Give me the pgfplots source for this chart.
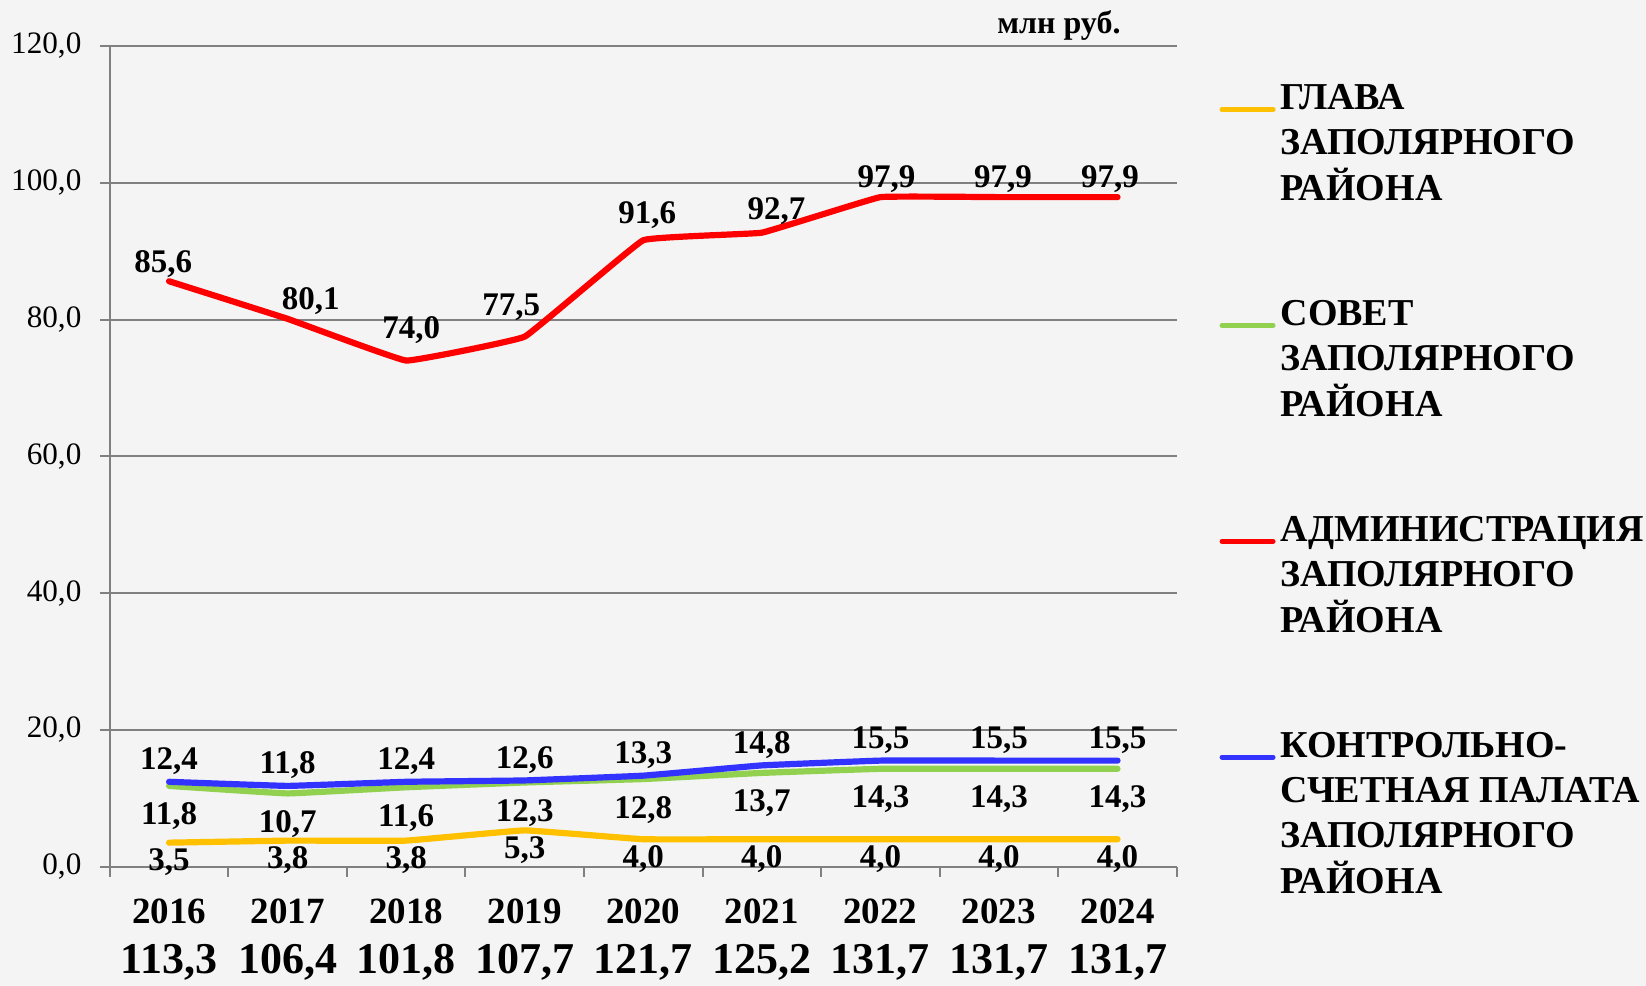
\documentclass[border=0pt]{standalone}
\usepackage{fontspec}
\setmainfont{Liberation Serif}
\usepackage{pgfplots}
\pgfplotsset{compat=1.18}

\definecolor{bgc}{RGB}{244,244,244}
\definecolor{glava}{RGB}{255,192,0}
\definecolor{sovet}{RGB}{146,208,80}
\definecolor{admin}{RGB}{255,0,0}
\definecolor{ksp}{RGB}{51,51,255}
\definecolor{gridc}{RGB}{128,128,128}

% year on top, total below
\newcommand{\yl}[2]{#1\\{\fontsize{22}{25.1}\selectfont #2}}
% legend text, baseline on its first line
\newcommand{\legtxt}[1]{\begin{tabular}[t]{@{}l@{}}#1\end{tabular}}

\begin{document}
\begin{tikzpicture}
\path[use as bounding box, fill=bgc] (0,0) rectangle (823pt,493pt);
\begin{axis}[
    at={(54.9pt,59.7pt)}, anchor=south west,
    scale only axis, width=533.5pt, height=410.3pt,
    xmin=-0.5, xmax=8.5, ymin=0, ymax=120,
    axis x line*=bottom, axis y line*=left,
    axis line style={gridc, line width=1pt, -},
    tick align=outside,
    major tick length=5pt, minor tick length=5pt,
    tick style={gridc, line width=1pt},
    major x tick style={draw=none},
    xtick={0,...,8},
    minor xtick={-0.5,0.5,...,8.5},
    xticklabels={{\yl{2016}{113,3}},{\yl{2017}{106,4}},{\yl{2018}{101,8}},
        {\yl{2019}{107,7}},{\yl{2020}{121,7}},{\yl{2021}{125,2}},
        {\yl{2022}{131,7}},{\yl{2023}{131,7}},{\yl{2024}{131,7}}},
    xticklabel style={font=\fontsize{18.5}{25.1}\selectfont\bfseries,
        align=center, anchor=north, inner sep=0pt, yshift=-10.8pt},
    ytick={0,20,...,120},
    yticklabel style={font=\fontsize{15.6}{18}\selectfont, inner sep=0pt, xshift=-9pt},
    ymajorgrids,
    grid style={gridc, line width=1pt},
    /pgf/number format/.cd, fixed, fixed zerofill, precision=1, use comma,
        1000 sep={}, assume math mode=true,
    /pgfplots/.cd,
    every axis plot/.append style={line width=3.1pt, line cap=round, line join=round,
        smooth, tension=0.12},
    nodes near coords style={font=\fontsize{16.5}{18}\selectfont\bfseries,
        text=black, inner sep=0pt},
    legend style={at={(1.0368,0.9615)}, anchor=north west, draw=none, fill=none,
        font=\fontsize{19}{22.5}\selectfont\bfseries,
        nodes={inner sep=0pt},
        cells={anchor=base west}, row sep=84.4pt, column sep=2.5pt, inner sep=0pt},
    legend image code/.code={
        \path (0pt,-6.25pt);
        \draw[#1, line width=2.5pt, line cap=round] (1.25pt,0pt) -- (26.75pt,0pt);
    },
]
\addplot[glava, nodes near coords,
    every node near coord/.append style={anchor=base, yshift=-14pt}]
    coordinates {(0,3.5) (1,3.8) (2,3.8) (3,5.3) (4,4.0) (5,4.0) (6,4.0) (7,4.0) (8,4.0)};
\addlegendentry{\legtxt{ГЛАВА\\ЗАПОЛЯРНОГО\\РАЙОНА}}

\addplot[sovet, nodes near coords,
    every node near coord/.append style={anchor=base, yshift=-19.5pt}]
    coordinates {(0,11.8) (1,10.7) (2,11.6) (3,12.3) (4,12.8) (5,13.7) (6,14.3) (7,14.3) (8,14.3)};
\addlegendentry{\legtxt{СОВЕТ\\ЗАПОЛЯРНОГО\\РАЙОНА}}

% dx, dy: label offsets as placed in the original
\addplot[admin, nodes near coords,
    visualization depends on={value \thisrow{dx}\as\dx},
    visualization depends on={value \thisrow{dy}\as\dy},
    every node near coord/.append style={anchor=base, xshift=\dx pt, yshift=\dy pt}]
    table {
x y    dx   dy
0 85.6 -2.9 4.2
1 80.1 11.5 4.8
2 74.0 2.5  11.1
3 77.5 -6.7 10.8
4 91.6 2.0  8.4
5 92.7 7.3  6.7
6 97.9 3.0  4.7
7 97.9 2.0  4.7
8 97.9 -3.7 4.7
};
\addlegendentry{\legtxt{АДМИНИСТРАЦИЯ\\ЗАПОЛЯРНОГО\\РАЙОНА}}

\addplot[ksp, nodes near coords,
    every node near coord/.append style={anchor=base, yshift=6pt}]
    coordinates {(0,12.4) (1,11.8) (2,12.4) (3,12.6) (4,13.3) (5,14.8) (6,15.5) (7,15.5) (8,15.5)};
\addlegendentry{\legtxt{КОНТРОЛЬНО-\\СЧЕТНАЯ ПАЛАТА\\ЗАПОЛЯРНОГО\\РАЙОНА}}
\end{axis}
\node[font=\fontsize{16}{18}\selectfont\bfseries] at (529.5pt,480pt) {млн руб.};
\end{tikzpicture}
\end{document}
